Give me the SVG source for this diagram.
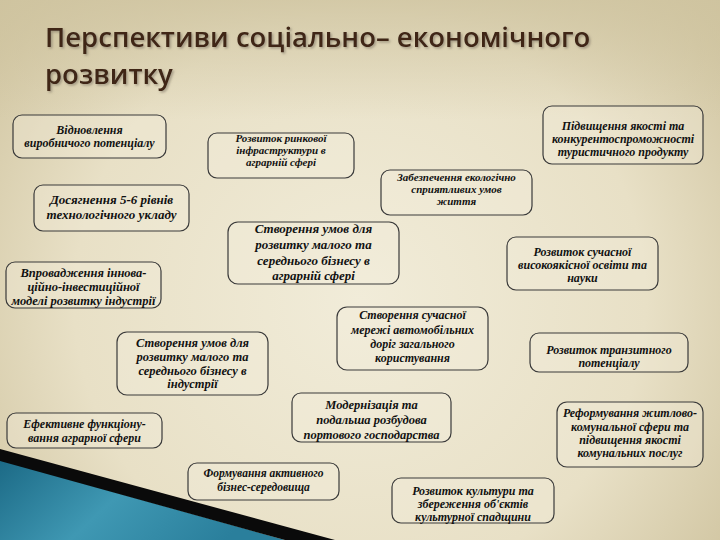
<svg xmlns="http://www.w3.org/2000/svg" width="720" height="540" viewBox="0 0 720 540">
<defs>
<radialGradient id="bg" cx="360" cy="300" r="520" gradientUnits="userSpaceOnUse">
<stop offset="0" stop-color="#f1ecd9"/>
<stop offset="0.55" stop-color="#e8e0c6"/>
<stop offset="1" stop-color="#c7ba92"/>
</radialGradient>
<linearGradient id="top" x1="0" y1="0" x2="0" y2="1">
<stop offset="0" stop-color="#cfc4a0" stop-opacity="0.8"/>
<stop offset="1" stop-color="#cfc4a0" stop-opacity="0"/>
</linearGradient>
<linearGradient id="blue" x1="0" y1="0" x2="1" y2="0.3">
<stop offset="0" stop-color="#1c6a86"/>
<stop offset="0.5" stop-color="#3f98b3"/>
<stop offset="1" stop-color="#2a7f9c"/>
</linearGradient>
<filter id="sh" x="-5%" y="-20%" width="110%" height="140%">
<feDropShadow dx="1.5" dy="1.5" stdDeviation="1" flood-color="#7a6f60" flood-opacity="0.6"/>
</filter>
<style>
.box{fill:#f4efde;fill-opacity:0.35;stroke:#3a3a3a;stroke-width:1.2}
.t{font-family:"Liberation Serif","DejaVu Serif",serif;font-style:italic;font-weight:bold;fill:#111;text-anchor:middle}
.title{font-family:"Open Sans","DejaVu Sans",sans-serif;font-weight:600;font-size:27.5px;fill:#3f2618}
</style>
</defs>
<rect width="720" height="540" fill="url(#bg)"/>
<rect width="720" height="120" fill="url(#top)"/>
<polygon points="0,460 285,540 0,540" fill="url(#blue)"/>
<polygon points="0,449 335,540 285,540 0,461" fill="#0a0a0a"/>

<g filter="url(#sh)">
<text class="title" x="45" y="47">Перспективи соціально– економічного</text>
<text class="title" x="45" y="84">розвитку</text>
</g>

<g id="connectors"></g>

<g id="n1"><rect class="box" x="13" y="115" width="153" height="43" rx="9"/>
<text class="t" font-size="12"><tspan x="89.5" y="134">Відновлення</tspan><tspan x="89.5" y="147">виробничого потенціалу</tspan></text></g>

<g id="n2"><rect class="box" x="208" y="133" width="146" height="45" rx="9"/>
<text class="t" font-size="11"><tspan x="281" y="142">Розвиток ринкової</tspan><tspan x="281" y="154">інфраструктури в</tspan><tspan x="281" y="166">аграрній сфері</tspan></text></g>

<g id="n3"><rect class="box" x="543" y="106" width="160" height="58" rx="9"/>
<text class="t" font-size="12"><tspan x="623" y="130">Підвищення якості та</tspan><tspan x="623" y="143">конкурентоспроможності</tspan><tspan x="623" y="156">туристичного продукту</tspan></text></g>

<g id="n4"><rect class="box" x="381" y="170" width="151" height="45" rx="9"/>
<text class="t" font-size="11"><tspan x="456.5" y="181">Забезпечення екологічно</tspan><tspan x="456.5" y="193">сприятливих умов</tspan><tspan x="456.5" y="205">життя</tspan></text></g>

<g id="n5"><rect class="box" x="34" y="185" width="155" height="46" rx="9"/>
<text class="t" font-size="13"><tspan x="111.5" y="204">Досягнення 5-6 рівнів</tspan><tspan x="111.5" y="219">технологічного укладу</tspan></text></g>

<g id="n6"><rect class="box" x="228" y="222" width="171" height="62" rx="10"/>
<text class="t" font-size="13"><tspan x="313.5" y="233">Створення умов для</tspan><tspan x="313.5" y="249">розвитку малого та</tspan><tspan x="313.5" y="265">середнього бізнесу в</tspan><tspan x="313.5" y="280">аграрній сфері</tspan></text></g>

<g id="n7"><rect class="box" x="507" y="237" width="151" height="53" rx="9"/>
<text class="t" font-size="12"><tspan x="582.5" y="256">Розвиток сучасної</tspan><tspan x="582.5" y="269">високоякісної освіти та</tspan><tspan x="582.5" y="282">науки</tspan></text></g>

<g id="n8"><rect class="box" x="6" y="262" width="155" height="46" rx="9"/>
<text class="t" font-size="12.5"><tspan x="83.5" y="277">Впровадження іннова-</tspan><tspan x="83.5" y="291">ційно-інвестиційної</tspan><tspan x="83.5" y="305">моделі розвитку індустрії</tspan></text></g>

<g id="n9"><rect class="box" x="337" y="307" width="151" height="63" rx="10"/>
<text class="t" font-size="12"><tspan x="412.5" y="319">Створення сучасної</tspan><tspan x="412.5" y="334">мережі автомобільних</tspan><tspan x="412.5" y="348">доріг загального</tspan><tspan x="412.5" y="362">користування</tspan></text></g>

<g id="n10"><rect class="box" x="117" y="332" width="151" height="63" rx="10"/>
<text class="t" font-size="12.5"><tspan x="192.5" y="347">Створення умов для</tspan><tspan x="192.5" y="361">розвитку малого та</tspan><tspan x="192.5" y="375">середнього бізнесу в</tspan><tspan x="192.5" y="388">індустрії</tspan></text></g>

<g id="n11"><rect class="box" x="530" y="333" width="158" height="39" rx="9"/>
<text class="t" font-size="12"><tspan x="609" y="354">Розвиток транзитного</tspan><tspan x="609" y="367">потенціалу</tspan></text></g>

<g id="n12"><rect class="box" x="292" y="393" width="159" height="49" rx="9"/>
<text class="t" font-size="12.5"><tspan x="371.5" y="409">Модернізація та</tspan><tspan x="371.5" y="424">подальша розбудова</tspan><tspan x="371.5" y="439">портового господарства</tspan></text></g>

<g id="n13"><rect class="box" x="7" y="413" width="155" height="35" rx="9"/>
<text class="t" font-size="12"><tspan x="84.5" y="428">Ефективне функціону-</tspan><tspan x="84.5" y="442">вання аграрної сфери</tspan></text></g>

<g id="n14"><rect class="box" x="557" y="402" width="146" height="65" rx="10"/>
<text class="t" font-size="12"><tspan x="630" y="417">Реформування житлово-</tspan><tspan x="630" y="431">комунальної сфери та</tspan><tspan x="630" y="444">підвищення якості</tspan><tspan x="630" y="457">комунальних послуг</tspan></text></g>

<g id="n15"><rect class="box" x="188" y="463" width="151" height="37" rx="9"/>
<text class="t" font-size="11.5"><tspan x="263.5" y="477">Формування активного</tspan><tspan x="263.5" y="491">бізнес-середовища</tspan></text></g>

<g id="n16"><rect class="box" x="392" y="478" width="162" height="45" rx="9"/>
<text class="t" font-size="12"><tspan x="473" y="495">Розвиток культури та</tspan><tspan x="473" y="508">збереження об'єктів</tspan><tspan x="473" y="521">культурної спадщини</tspan></text></g>
</svg>
